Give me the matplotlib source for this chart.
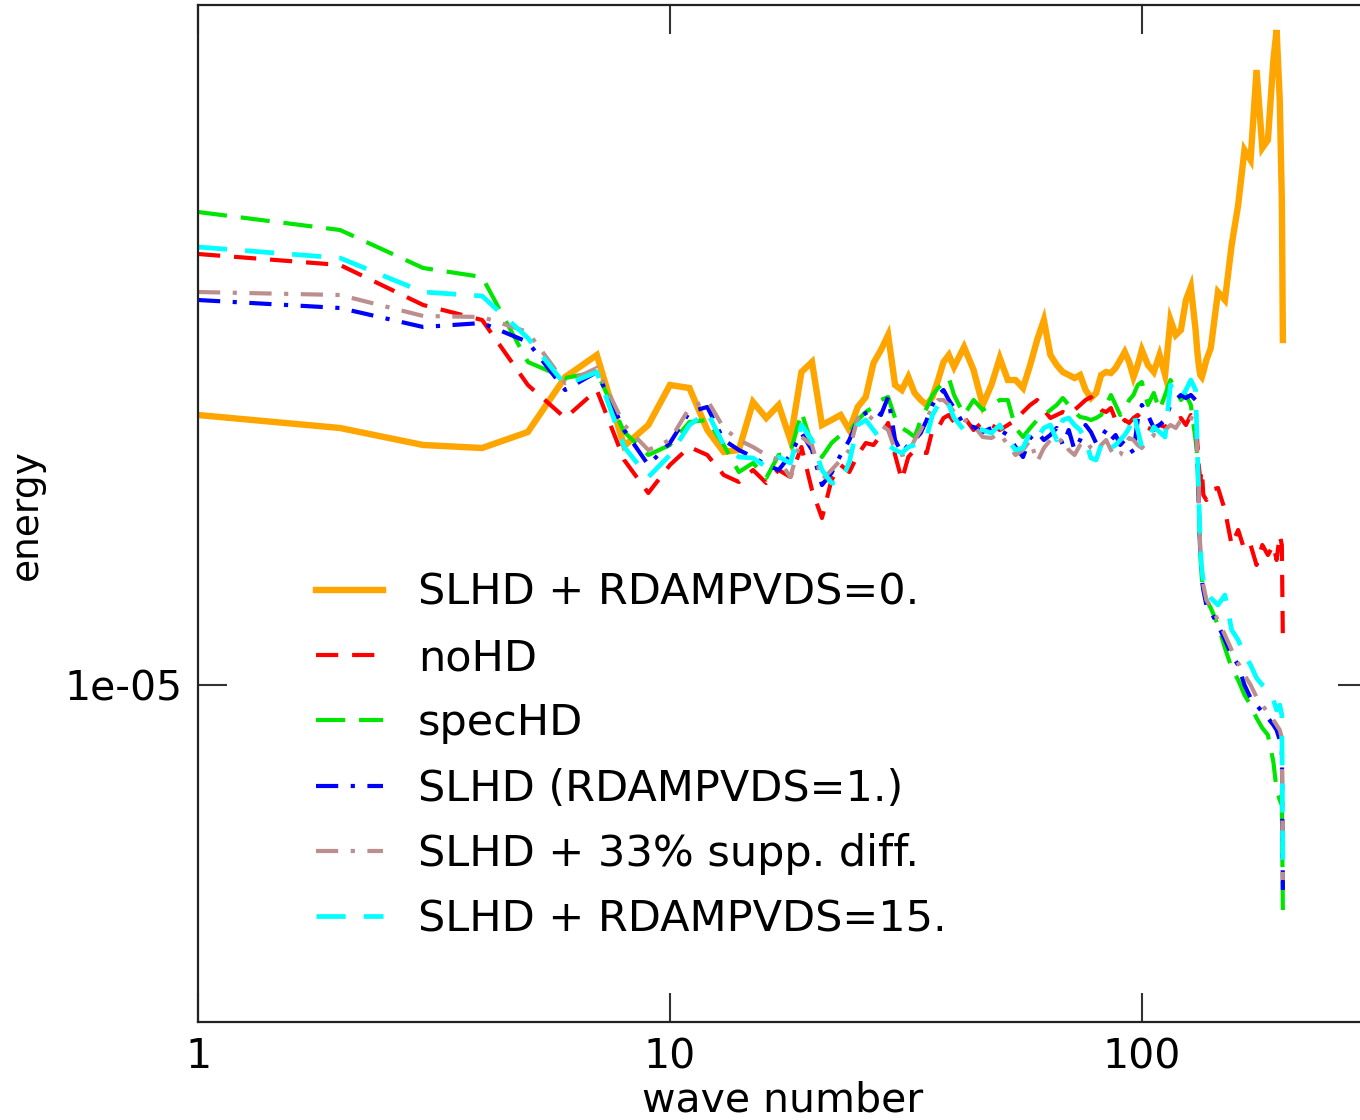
import numpy as np
import matplotlib
matplotlib.use("Agg")
import matplotlib.pyplot as plt
from matplotlib.ticker import FixedLocator, FixedFormatter, NullLocator

# ---------------- data (log10 of energy) ----------------
wave_number = (list(range(1, 41)) + list(range(42, 101, 2)) + list(range(103, 131, 3))
               + [131, 132, 133, 134, 135, 137, 140, 145, 150, 155, 160, 165, 170,
                  175, 180, 185, 190, 193, 196, 198, 199])

slhd_rdamp0 = [
    -4.730, -4.743, -4.760, -4.763, -4.747, -4.692, -4.670, -4.761, -4.740, -4.700,
    -4.703, -4.745, -4.767, -4.765, -4.717, -4.733, -4.720, -4.755, -4.687, -4.677,
    -4.740, -4.735, -4.730, -4.745, -4.722, -4.712, -4.678, -4.665, -4.650, -4.700,
    -4.705, -4.692, -4.708, -4.715, -4.720, -4.712, -4.695, -4.677, -4.670, -4.682,
    -4.662, -4.685, -4.720, -4.700, -4.673, -4.695, -4.695, -4.703, -4.680, -4.655,
    -4.635, -4.670, -4.680, -4.687, -4.690, -4.693, -4.690, -4.705, -4.713, -4.708,
    -4.690, -4.687, -4.688, -4.683, -4.675, -4.667, -4.677, -4.692, -4.680, -4.665,
    -4.680, -4.687, -4.670, -4.690, -4.635, -4.650, -4.645, -4.615, -4.602, -4.645,
    -4.665, -4.680, -4.690, -4.692, -4.687, -4.675, -4.663, -4.607, -4.615, -4.560,
    -4.520, -4.465, -4.475, -4.385, -4.463, -4.455, -4.375, -4.345, -4.415, -4.515,
    -4.655]

no_hd = [
    -4.569, -4.580, -4.620, -4.635, -4.700, -4.733, -4.705, -4.775, -4.808, -4.780,
    -4.762, -4.770, -4.790, -4.797, -4.785, -4.798, -4.785, -4.792, -4.762, -4.805,
    -4.833, -4.795, -4.780, -4.787, -4.770, -4.758, -4.760, -4.750, -4.738, -4.770,
    -4.795, -4.772, -4.765, -4.767, -4.768, -4.745, -4.743, -4.733, -4.730, -4.737,
    -4.732, -4.745, -4.737, -4.740, -4.745, -4.740, -4.735, -4.727, -4.720, -4.715,
    -4.725, -4.733, -4.730, -4.727, -4.730, -4.725, -4.720, -4.715, -4.712, -4.720,
    -4.725, -4.727, -4.723, -4.735, -4.740, -4.735, -4.738, -4.733, -4.730, -4.735,
    -4.743, -4.745, -4.740, -4.742, -4.738, -4.735, -4.733, -4.740, -4.730, -4.735,
    -4.755, -4.780, -4.795, -4.785, -4.810, -4.815, -4.805, -4.803, -4.825, -4.860,
    -4.845, -4.865, -4.860, -4.880, -4.860, -4.870, -4.860, -4.875, -4.850, -4.860,
    -4.955]

spec_hd = [
    -4.527, -4.545, -4.583, -4.592, -4.677, -4.693, -4.687, -4.747, -4.770, -4.760,
    -4.737, -4.735, -4.760, -4.787, -4.778, -4.793, -4.770, -4.768, -4.727, -4.760,
    -4.772, -4.758, -4.750, -4.747, -4.735, -4.727, -4.722, -4.715, -4.712, -4.733,
    -4.743, -4.747, -4.752, -4.735, -4.723, -4.710, -4.703, -4.698, -4.693, -4.710,
    -4.730, -4.715, -4.725, -4.720, -4.715, -4.715, -4.743, -4.752, -4.743, -4.735,
    -4.730, -4.725, -4.720, -4.713, -4.720, -4.727, -4.732, -4.733, -4.735, -4.733,
    -4.730, -4.720, -4.710, -4.720, -4.730, -4.725, -4.715, -4.710, -4.700, -4.697,
    -4.720, -4.708, -4.725, -4.710, -4.695, -4.705, -4.715, -4.710, -4.720, -4.755,
    -4.770, -4.820, -4.870, -4.893, -4.905, -4.915, -4.923, -4.940, -4.963, -4.983,
    -4.995, -5.010, -5.020, -5.033, -5.043, -5.050, -5.077, -5.105, -5.115, -5.120,
    -5.225]

slhd_rdamp1 = [
    -4.615, -4.623, -4.642, -4.638, -4.657, -4.705, -4.687, -4.745, -4.780, -4.758,
    -4.727, -4.722, -4.755, -4.765, -4.772, -4.780, -4.785, -4.770, -4.748, -4.765,
    -4.800, -4.788, -4.770, -4.755, -4.735, -4.728, -4.725, -4.730, -4.712, -4.755,
    -4.768, -4.760, -4.755, -4.748, -4.735, -4.720, -4.710, -4.705, -4.715, -4.723,
    -4.740, -4.742, -4.747, -4.743, -4.745, -4.750, -4.762, -4.772, -4.753, -4.747,
    -4.755, -4.750, -4.743, -4.760, -4.745, -4.765, -4.755, -4.740, -4.747, -4.758,
    -4.752, -4.745, -4.755, -4.750, -4.760, -4.755, -4.762, -4.768, -4.735, -4.720,
    -4.730, -4.743, -4.740, -4.735, -4.720, -4.715, -4.710, -4.713, -4.710, -4.715,
    -4.770, -4.820, -4.870, -4.895, -4.905, -4.920, -4.927, -4.940, -4.955, -4.970,
    -4.980, -5.000, -5.013, -5.020, -5.027, -5.033, -5.040, -5.045, -5.055, -5.060,
    -5.205]

slhd_supp33 = [
    -4.607, -4.610, -4.631, -4.632, -4.647, -4.698, -4.683, -4.740, -4.765, -4.755,
    -4.723, -4.715, -4.743, -4.755, -4.762, -4.770, -4.775, -4.792, -4.752, -4.760,
    -4.795, -4.785, -4.775, -4.765, -4.733, -4.728, -4.735, -4.740, -4.745, -4.765,
    -4.770, -4.768, -4.755, -4.745, -4.733, -4.723, -4.715, -4.715, -4.720, -4.727,
    -4.735, -4.740, -4.752, -4.753, -4.748, -4.760, -4.770, -4.765, -4.755, -4.777,
    -4.763, -4.755, -4.760, -4.753, -4.765, -4.770, -4.760, -4.755, -4.763, -4.767,
    -4.760, -4.755, -4.765, -4.773, -4.770, -4.760, -4.753, -4.755, -4.760, -4.763,
    -4.755, -4.750, -4.752, -4.745, -4.740, -4.743, -4.735, -4.730, -4.733, -4.735,
    -4.765, -4.815, -4.865, -4.890, -4.900, -4.915, -4.922, -4.935, -4.950, -4.965,
    -4.978, -4.990, -5.000, -5.012, -5.020, -5.028, -5.035, -5.040, -5.045, -5.053,
    -5.195]

slhd_rdamp15 = [
    -4.562, -4.573, -4.607, -4.611, -4.653, -4.700, -4.687, -4.762, -4.792, -4.770,
    -4.740, -4.727, -4.760, -4.772, -4.773, -4.782, -4.772, -4.778, -4.740, -4.755,
    -4.785, -4.798, -4.798, -4.777, -4.740, -4.735, -4.745, -4.755, -4.760, -4.765,
    -4.768, -4.762, -4.760, -4.758, -4.752, -4.730, -4.720, -4.713, -4.720, -4.733,
    -4.745, -4.742, -4.745, -4.748, -4.740, -4.755, -4.765, -4.763, -4.747, -4.753,
    -4.743, -4.740, -4.755, -4.735, -4.733, -4.740, -4.745, -4.755, -4.773, -4.775,
    -4.760, -4.755, -4.763, -4.760, -4.755, -4.750, -4.743, -4.728, -4.745, -4.762,
    -4.755, -4.742, -4.747, -4.752, -4.700, -4.707, -4.713, -4.705, -4.695, -4.705,
    -4.760, -4.810, -4.860, -4.885, -4.895, -4.905, -4.913, -4.920, -4.910, -4.945,
    -4.955, -4.970, -4.980, -4.993, -5.000, -5.005, -5.015, -5.025, -5.020, -5.030,
    -5.185]

labels = ["SLHD + RDAMPVDS=0.", "noHD", "specHD", "SLHD (RDAMPVDS=1.)",
          "SLHD + 33% supp. diff.", "SLHD + RDAMPVDS=15."]
x_ticks = [1, 10, 100]
x_tick_labels = ["1", "10", "100"]
y_ticks = [1e-05]
y_tick_labels = ["1e-05"]

# ---------------- style ----------------
plt.rcParams["font.family"] = ["DejaVu Sans"]
plt.rcParams["lines.scale_dashes"] = False
FS = 29.5
LEG_FS = 31

series = [slhd_rdamp0, no_hd, spec_hd, slhd_rdamp1, slhd_supp33, slhd_rdamp15]
colors = ["#ffa500", "#ff0000", "#00e600", "#0000ff", "#bc8f8f", "#00ffff"]
widths = [4.6, 3.0, 3.0, 3.0, 3.0, 3.4]
dash_styles = [None, (0, (16, 10)), (0, (21, 10)), (0, (16, 9, 3, 9)),
               (0, (16, 9, 3, 9)), (0, (21, 13))]

fig = plt.figure(figsize=(13.6, 11.2), dpi=100)
ax = fig.add_axes([198 / 1360, 98 / 1120, 1169 / 1360, 1017 / 1120])
ax.set_xscale("log")
ax.set_yscale("log")

k = np.array(wave_number)
for vals, c, lw, ds, lab in zip(series, colors, widths, dash_styles, labels):
    e = 10.0 ** np.array(vals)
    if ds is None:
        ax.plot(k, e, color=c, lw=lw, label=lab, solid_joinstyle="miter")
    else:
        ax.plot(k, e, color=c, lw=lw, label=lab, linestyle=ds)

ax.set_xlim(1, 300)
ax.set_ylim(10 ** -5.337, 10 ** -4.320)

ax.xaxis.set_major_locator(FixedLocator(x_ticks))
ax.xaxis.set_major_formatter(FixedFormatter(x_tick_labels))
ax.xaxis.set_minor_locator(NullLocator())
ax.yaxis.set_major_locator(FixedLocator(y_ticks))
ax.yaxis.set_major_formatter(FixedFormatter(y_tick_labels))
ax.yaxis.set_minor_locator(NullLocator())

ax.tick_params(which="major", direction="in", length=21, width=1.5,
               top=True, right=True, labelsize=FS, pad=11, color="#333333")
for sp in ax.spines.values():
    sp.set_linewidth(1.6)
    sp.set_color("#222222")

ax.set_xlabel("wave number", fontsize=FS, labelpad=2)
ax.set_ylabel("energy", fontsize=27)
ax.yaxis.set_label_coords(-0.131, 0.4985)

ax.legend(loc="upper left", bbox_to_anchor=(0.101, 0.4425), frameon=False,
          fontsize=LEG_FS, handlelength=1.56, handletextpad=0.81, labelspacing=0.54,
          borderpad=0, borderaxespad=0)

fig.savefig("out.png", dpi=100)
